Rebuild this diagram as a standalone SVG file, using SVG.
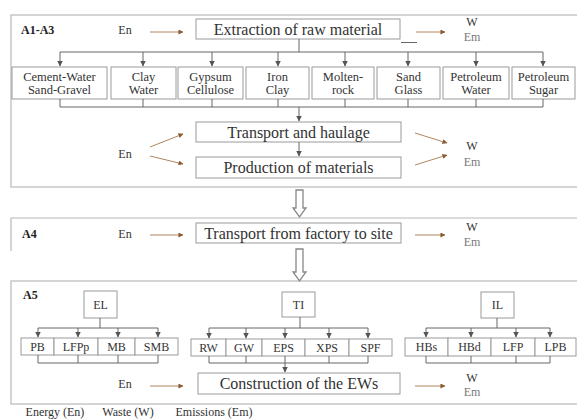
<svg xmlns="http://www.w3.org/2000/svg" width="577" height="419" viewBox="0 0 577 419">
  <defs>
    <marker id="ah" viewBox="0 0 6 6" refX="5.5" refY="3" markerWidth="6" markerHeight="6" markerUnits="userSpaceOnUse" orient="auto">
      <path d="M0,0 L6,3 L0,6 z" fill="#555"/>
    </marker>
    <marker id="ahb" viewBox="0 0 6 6" refX="5.5" refY="3" markerWidth="5" markerHeight="5" markerUnits="userSpaceOnUse" orient="auto">
      <path d="M0,0 L6,3 L0,6 z" fill="#8a5a30"/>
    </marker>
    <style>
      .panel { fill: none; stroke: #b8b8b8; stroke-width: 1.2; }
      .box { fill: #fff; stroke: #9a9a9a; stroke-width: 1; }
      .t { font-family: "Liberation Serif", "Times New Roman", serif; fill: #333; text-anchor: middle; dominant-baseline: central; }
      .big { font-size: 16px; }
      .mid { font-size: 12.5px; }
      .sm { font-size: 12px; }
      .title { font-family: "Liberation Serif", serif; font-weight: bold; font-size: 12px; fill: #222; }
      .em { fill: #777; }
      .ln { fill: none; stroke: #666; stroke-width: 1; }
      .flow { fill: none; stroke: #b08660; stroke-width: 1; marker-end: url(#ahb); }
      .dn { fill: none; stroke: #666; stroke-width: 1; marker-end: url(#ah); }
      .hollow { fill: #fff; stroke: #888; stroke-width: 1.3; }
    </style>
  </defs>

  <rect width="577" height="419" fill="#fff"/>

  <!-- stage panels -->
  <g id="panels">
    <rect class="panel" x="11" y="15" width="590" height="172"/>
    <path class="panel" d="M11,251 V218 H590"/>
    <rect class="panel" x="11" y="281" width="590" height="123"/>
    <text class="title" x="21" y="34">A1-A3</text>
    <text class="title" x="22" y="238">A4</text>
    <text class="title" x="23" y="299">A5</text>
  </g>

  <!-- A1-A3 nodes -->
  <g id="extraction">
    <rect class="box" x="196" y="19" width="204" height="20"/>
    <text class="t big" x="298" y="29.5">Extraction of raw material</text>
  </g>
  <g id="m-cement">
    <rect class="box" x="12" y="67" width="95" height="32"/>
    <text class="t mid" x="59.5" y="77">Cement-Water</text>
    <text class="t mid" x="59.5" y="90">Sand-Gravel</text>
  </g>
  <g id="m-clay">
    <rect class="box" x="111" y="67" width="65" height="32"/>
    <text class="t mid" x="143.5" y="77">Clay</text>
    <text class="t mid" x="143.5" y="90">Water</text>
  </g>
  <g id="m-gypsum">
    <rect class="box" x="178" y="67" width="65" height="32"/>
    <text class="t mid" x="210.5" y="77">Gypsum</text>
    <text class="t mid" x="210.5" y="90">Cellulose</text>
  </g>
  <g id="m-iron">
    <rect class="box" x="246" y="67" width="63" height="32"/>
    <text class="t mid" x="277.5" y="77">Iron</text>
    <text class="t mid" x="277.5" y="90">Clay</text>
  </g>
  <g id="m-molten">
    <rect class="box" x="312" y="67" width="62" height="32"/>
    <text class="t mid" x="343" y="77">Molten-</text>
    <text class="t mid" x="343" y="90">rock</text>
  </g>
  <g id="m-sand">
    <rect class="box" x="377" y="67" width="63" height="32"/>
    <text class="t mid" x="408.5" y="77">Sand</text>
    <text class="t mid" x="408.5" y="90">Glass</text>
  </g>
  <g id="m-petro-water">
    <rect class="box" x="443" y="67" width="66" height="32"/>
    <text class="t mid" x="476" y="77">Petroleum</text>
    <text class="t mid" x="476" y="90">Water</text>
  </g>
  <g id="m-petro-sugar">
    <rect class="box" x="512" y="67" width="63" height="32"/>
    <text class="t mid" x="543.5" y="77">Petroleum</text>
    <text class="t mid" x="543.5" y="90">Sugar</text>
  </g>
  <g id="transport">
    <rect class="box" x="196" y="122" width="205" height="20"/>
    <text class="t big" x="298.5" y="132">Transport and haulage</text>
  </g>
  <g id="production">
    <rect class="box" x="196" y="157" width="205" height="21"/>
    <text class="t big" x="298.5" y="167.5">Production of materials</text>
  </g>

  <!-- A4 node -->
  <g id="factory-site">
    <rect class="box" x="196" y="223" width="205" height="20"/>
    <text class="t big" x="298.5" y="233">Transport from factory to site</text>
  </g>

  <!-- A5 nodes -->
  <g id="el">
    <rect class="box" x="84" y="291" width="33" height="27"/>
    <text class="t sm" x="100.5" y="304.5">EL</text>
  </g>
  <g id="ti">
    <rect class="box" x="282" y="292" width="33" height="25"/>
    <text class="t sm" x="298.5" y="304.5">TI</text>
  </g>
  <g id="il">
    <rect class="box" x="481" y="292" width="33" height="26"/>
    <text class="t sm" x="497.5" y="305">IL</text>
  </g>
  <g id="el-items">
    <rect class="box" x="21" y="338" width="33" height="17"/>
    <rect class="box" x="54" y="338" width="44" height="17"/>
    <rect class="box" x="98" y="338" width="37" height="17"/>
    <rect class="box" x="135" y="338" width="43" height="17"/>
    <text class="t sm" x="37.5" y="346.5">PB</text>
    <text class="t sm" x="76" y="346.5">LFPp</text>
    <text class="t sm" x="116.5" y="346.5">MB</text>
    <text class="t sm" x="156.5" y="346.5">SMB</text>
  </g>
  <g id="ti-items">
    <rect class="box" x="191" y="339" width="35" height="17"/>
    <rect class="box" x="226" y="339" width="36" height="17"/>
    <rect class="box" x="262" y="339" width="43" height="17"/>
    <rect class="box" x="305" y="339" width="44" height="17"/>
    <rect class="box" x="349" y="339" width="43" height="17"/>
    <text class="t sm" x="208.5" y="347.5">RW</text>
    <text class="t sm" x="244" y="347.5">GW</text>
    <text class="t sm" x="283.5" y="347.5">EPS</text>
    <text class="t sm" x="327" y="347.5">XPS</text>
    <text class="t sm" x="370.5" y="347.5">SPF</text>
  </g>
  <g id="il-items">
    <rect class="box" x="405" y="338" width="43" height="18"/>
    <rect class="box" x="448" y="338" width="43" height="18"/>
    <rect class="box" x="491" y="338" width="44" height="18"/>
    <rect class="box" x="535" y="338" width="41" height="18"/>
    <text class="t sm" x="426.5" y="347">HBs</text>
    <text class="t sm" x="469.5" y="347">HBd</text>
    <text class="t sm" x="513" y="347">LFP</text>
    <text class="t sm" x="555.5" y="347">LPB</text>
  </g>
  <g id="construction">
    <rect class="box" x="198" y="373" width="202" height="21"/>
    <text class="t big" x="299" y="383.5">Construction of the EWs</text>
  </g>

  <!-- inputs and outputs -->
  <g id="flows">
    <text class="t sm" x="125" y="30">En</text>
    <text class="t sm" x="125" y="154">En</text>
    <text class="t sm" x="125" y="234">En</text>
    <text class="t sm" x="125" y="384">En</text>
    <text class="t sm" x="472" y="22">W</text>
    <text class="t sm em" x="472" y="37">Em</text>
    <text class="t sm" x="472" y="146">W</text>
    <text class="t sm em" x="472" y="162">Em</text>
    <text class="t sm" x="472" y="227">W</text>
    <text class="t sm em" x="472" y="242">Em</text>
    <text class="t sm" x="472" y="378">W</text>
    <text class="t sm em" x="472" y="392">Em</text>
  </g>

  <!-- connectors -->
  <g id="connectors">
    <!-- energy in / waste and emissions out -->
    <path class="flow" d="M150,32 H183"/>
    <path class="flow" d="M416,32 H445"/>
    <path class="ln" d="M401,42.5 H417" stroke="#777"/>
    <path class="flow" d="M150,147 L183,134"/>
    <path class="flow" d="M150,156 L183,164"/>
    <path class="flow" d="M415,133 L447,143"/>
    <path class="flow" d="M415,165 L447,155"/>
    <path class="flow" d="M150,235 H183"/>
    <path class="flow" d="M415,235 H445"/>
    <path class="flow" d="M150,386 H183"/>
    <path class="flow" d="M415,386 H445"/>

    <!-- extraction fan-out -->
    <path class="ln" d="M299,39 V52 M60,52 H543"/>
    <path class="dn" d="M60,52 V66"/>
    <path class="dn" d="M143,52 V66"/>
    <path class="dn" d="M212,52 V66"/>
    <path class="dn" d="M278,52 V66"/>
    <path class="dn" d="M345,52 V66"/>
    <path class="dn" d="M408,52 V66"/>
    <path class="dn" d="M476,52 V66"/>
    <path class="dn" d="M543,52 V66"/>
    <!-- materials fan-in -->
    <path class="ln" d="M60,99 V107 M143,99 V107 M212,99 V107 M278,99 V107 M345,99 V107 M408,99 V107 M476,99 V107 M543,99 V107 M60,107 H543"/>
    <path class="dn" d="M299,107 V121"/>
    <path class="dn" d="M299,142 V156"/>

    <!-- stage transitions -->
    <path class="hollow" d="M296,190 V208 H293 L299.5,217 L306,208 H303 V190 Z"/>
    <path class="hollow" d="M296,249 V272 H293 L299.5,281 L306,272 H303 V249 Z"/>

    <!-- A5 layer fan-outs -->
    <path class="ln" d="M100,318 V328 M38,328 H158"/>
    <path class="dn" d="M38,328 V337"/>
    <path class="dn" d="M78,328 V337"/>
    <path class="dn" d="M118,328 V337"/>
    <path class="dn" d="M158,328 V337"/>
    <path class="ln" d="M300,317 V328 M209,328 H368"/>
    <path class="dn" d="M209,328 V338"/>
    <path class="dn" d="M246,328 V338"/>
    <path class="dn" d="M285,328 V338"/>
    <path class="dn" d="M329,328 V338"/>
    <path class="dn" d="M368,328 V338"/>
    <path class="ln" d="M497,318 V328 M426,328 H550"/>
    <path class="dn" d="M426,328 V337"/>
    <path class="dn" d="M471,328 V337"/>
    <path class="dn" d="M516,328 V337"/>
    <path class="dn" d="M550,328 V337"/>

    <!-- A5 layer fan-ins -->
    <path class="ln" d="M38,355 V363 M78,355 V363 M118,355 V363 M158,355 V363 M38,363 H158"/>
    <path class="ln" d="M209,356 V363 M246,356 V363 M285,356 V363 M329,356 V363 M368,356 V363 M209,363 H368"/>
    <path class="dn" d="M285,363 V372"/>
    <path class="ln" d="M426,356 V363 M471,356 V363 M516,356 V363 M550,356 V363 M426,363 H550"/>
  </g>

  <!-- key -->
  <g id="legend">
    <text class="t sm" x="55" y="412">Energy (En)</text>
    <text class="t sm" x="128" y="412">Waste (W)</text>
    <text class="t sm" x="214" y="412">Emissions (Em)</text>
  </g>
</svg>
